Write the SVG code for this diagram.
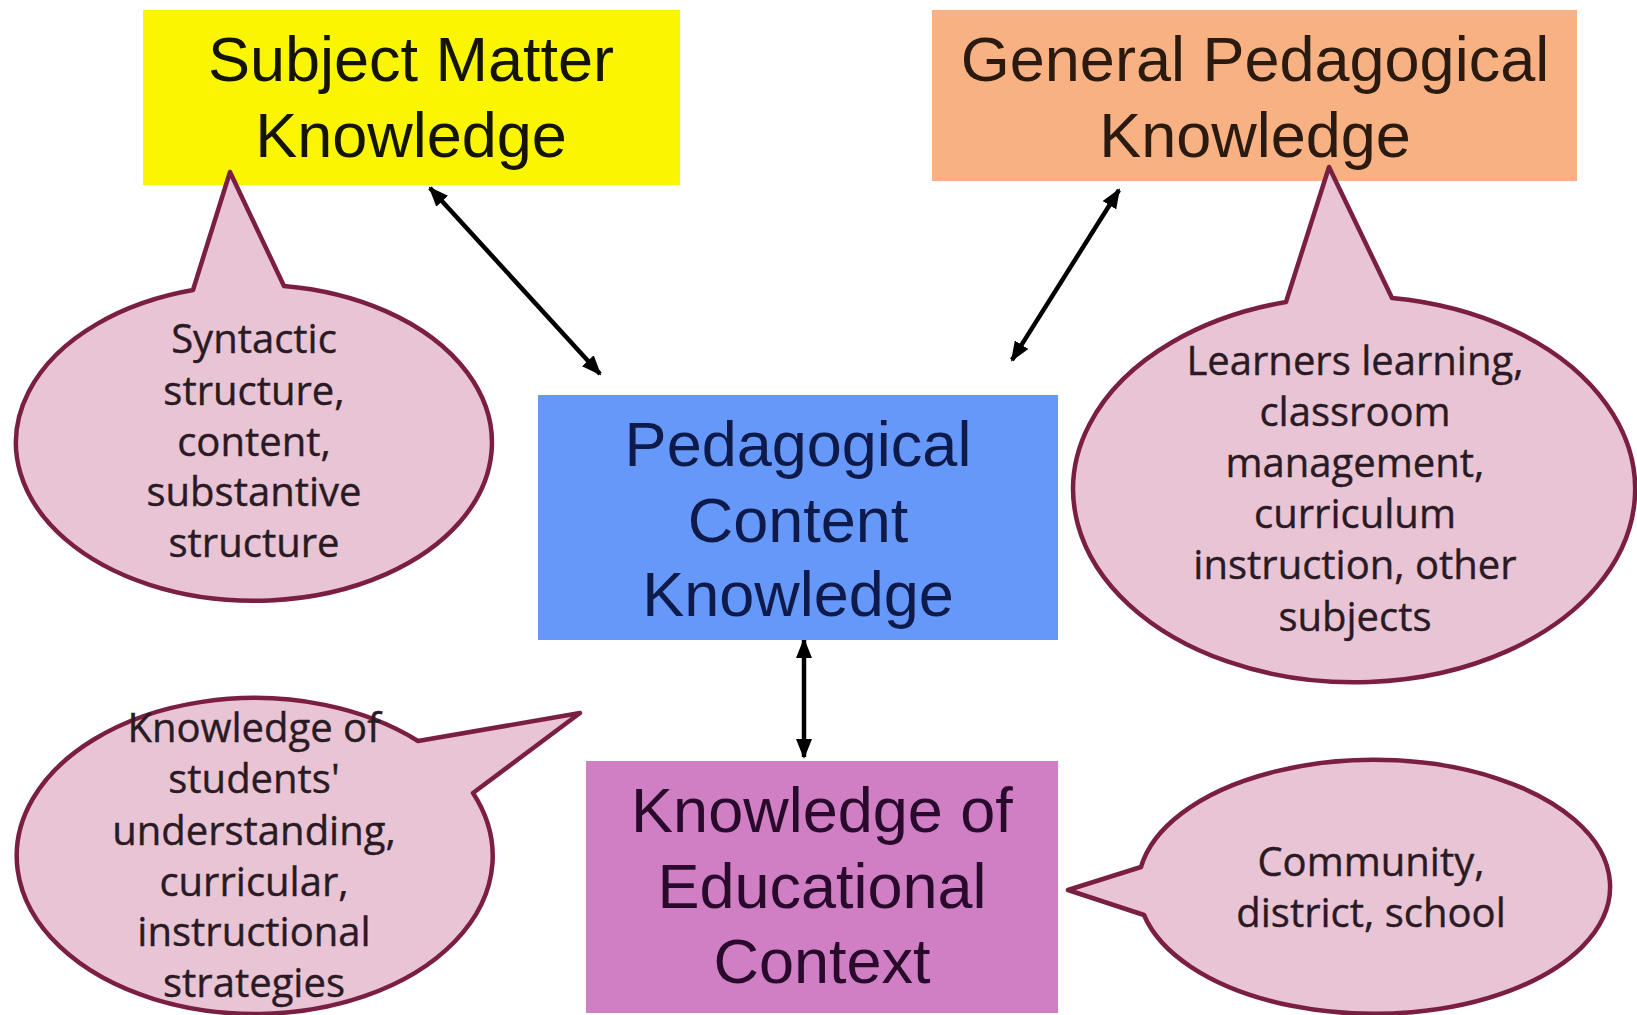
<svg xmlns="http://www.w3.org/2000/svg" width="1637" height="1015" viewBox="0 0 1637 1015">
<defs>
<style>
.box-text{font-family:"Liberation Sans",Arial,sans-serif;font-size:63px;text-anchor:middle;}
.call{fill:#E8C4D4;stroke:#7A1E42;stroke-width:4.5;stroke-linejoin:round;}
.call-text{font-family:"Open Sans","Noto Sans",sans-serif;font-size:40px;text-anchor:middle;fill:#2A1A24;stroke:#2A1A24;stroke-width:0.4;}
.conn{stroke:#000;stroke-width:4.5;fill:none;marker-start:url(#ah);marker-end:url(#ah);}
</style>
<marker id="ah" viewBox="0 0 20 16" refX="18" refY="8" markerWidth="20" markerHeight="16" markerUnits="userSpaceOnUse" orient="auto-start-reverse">
<path d="M0,0 L20,8 L0,16 z" fill="#000"/>
</marker>
</defs>
<rect width="1637" height="1015" fill="#fff"/>

<g id="connectors">
<line class="conn" x1="430" y1="188" x2="600" y2="374"/>
<line class="conn" x1="1119" y1="190" x2="1012" y2="360"/>
<line class="conn" x1="804" y1="640" x2="804" y2="757"/>
</g>

<g id="subject-matter">
<rect x="143" y="10" width="537" height="175" fill="#FAF500"/>
<text class="box-text" fill="#141400"><tspan x="411" y="81">Subject Matter</tspan><tspan x="411" y="157">Knowledge</tspan></text>
</g>

<g id="general-pedagogical">
<rect x="932" y="10" width="645" height="171" fill="#F8B182"/>
<text class="box-text" fill="#2A1A10"><tspan x="1255" y="81">General Pedagogical</tspan><tspan x="1255" y="157">Knowledge</tspan></text>
</g>

<g id="pck">
<rect x="538" y="395" width="520" height="245" fill="#6598F8"/>
<text class="box-text" fill="#0E1A4A"><tspan x="798" y="466">Pedagogical</tspan><tspan x="798" y="542">Content</tspan><tspan x="798" y="616">Knowledge</tspan></text>
</g>

<g id="educational-context">
<rect x="586" y="761" width="472" height="252" fill="#D07FC4"/>
<text class="box-text" fill="#2A0A2C"><tspan x="822" y="832">Knowledge of</tspan><tspan x="822" y="908">Educational</tspan><tspan x="822" y="983">Context</tspan></text>
</g>

<g id="callout-subject">
<path class="call" d="M193,290 L230,172 L284,286 A238,158 0 1 1 193,290 Z"/>
<text class="call-text"><tspan x="254" y="353">Syntactic</tspan><tspan x="254" y="405">structure,</tspan><tspan x="254" y="456">content,</tspan><tspan x="254" y="506">substantive</tspan><tspan x="254" y="557">structure</tspan></text>
</g>

<g id="callout-general">
<path class="call" d="M1286,302 L1329,167 L1392,298 A281,193 0 1 1 1286,302 Z"/>
<text class="call-text"><tspan x="1355" y="375">Learners learning,</tspan><tspan x="1355" y="426">classroom</tspan><tspan x="1355" y="477">management,</tspan><tspan x="1355" y="528">curriculum</tspan><tspan x="1355" y="579">instruction, other</tspan><tspan x="1355" y="631">subjects</tspan></text>
</g>

<g id="callout-pck">
<path class="call" d="M418,741 L580,713 L473,793 A238,158 0 1 1 418,741 Z"/>
<text class="call-text"><tspan x="254" y="742">Knowledge of</tspan><tspan x="254" y="793">students'</tspan><tspan x="254" y="845">understanding,</tspan><tspan x="254" y="896">curricular,</tspan><tspan x="254" y="946">instructional</tspan><tspan x="254" y="997">strategies</tspan></text>
</g>

<g id="callout-context">
<path class="call" d="M1141,867 L1068,890 L1144,915 A236,127 0 1 0 1141,867 Z"/>
<text class="call-text"><tspan x="1371" y="876">Community,</tspan><tspan x="1371" y="927">district, school</tspan></text>
</g>
</svg>
